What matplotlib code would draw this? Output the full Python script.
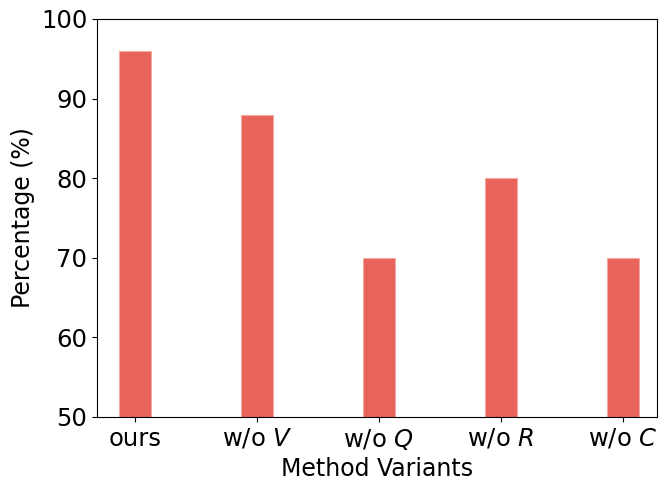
import matplotlib
matplotlib.use("Agg")
import matplotlib.pyplot as plt
import numpy as np

plt.rcParams['font.family'] = ['DejaVu Sans']
plt.rcParams['mathtext.fontset'] = 'dejavusans'

variants = ['ours', 'w/o $V$', 'w/o $Q$', 'w/o $R$', 'w/o $C$']
percentages = [96, 88, 70, 80, 70]

fig = plt.figure(figsize=(6.64, 4.91), dpi=100)
ax = fig.add_axes([97 / 664, 1 - 417 / 491, 560 / 664, 398 / 491])

x = np.arange(len(variants))
ax.bar(x, percentages, width=0.26, color='#E8645A', edgecolor='#F4A9A3', linewidth=0.8)

ax.set_ylim(50, 100)
ax.set_xlim(-0.31, 4.28)
ax.set_xticks(x)
ax.set_xticklabels(variants)
ax.set_yticks([50, 60, 70, 80, 90, 100])
ax.tick_params(labelsize=17.5)
ax.set_xlabel('Method Variants', fontsize=17)
ax.set_ylabel('Percentage (%)', fontsize=17)

fig.savefig('out.png', dpi=100)
